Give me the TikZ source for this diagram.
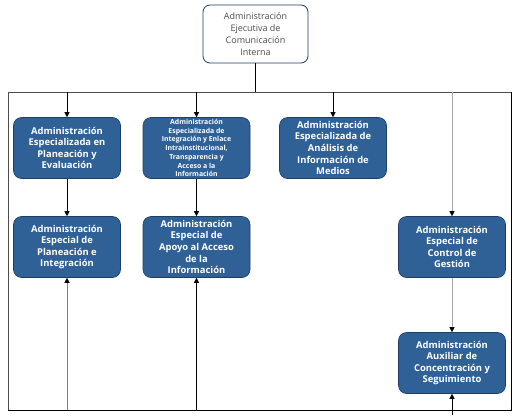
\documentclass[tikz,border=0pt]{standalone}
\usepackage{fontspec}
\setmainfont{Open Sans}
\usetikzlibrary{positioning, arrows.meta}
\definecolor{boxblue}{HTML}{2F6196}
\definecolor{boxedge}{HTML}{1E3D63}
\tikzset{
    head_box/.style={draw=boxedge, fill=white, rounded corners=7pt, line width=0.8pt, minimum width=105pt, minimum height=58pt, align=center, text=black!70, font=\fontsize{9}{12}\selectfont, inner sep=1pt},
    unit_box/.style={draw=boxedge, fill=boxblue, rounded corners=8pt, line width=0.6pt, minimum width=107pt, minimum height=61pt, align=center, text=white, font=\bfseries\fontsize{9.4}{11.6}\selectfont, inner sep=1pt},
    small_box/.style={unit_box, font=\bfseries\fontsize{6.9}{8.7}\selectfont},
    frame_line/.style={line width=0.8pt, black},
    main_arrow/.style={-{Triangle[width=5pt, length=5pt, color=black]}, line width=0.6pt, black},
    grey_arrow/.style={main_arrow, draw=black!35}
}
\begin{document}
\begin{tikzpicture}[x=1pt, y=-1pt]
    \useasboundingbox (0,0) rectangle (518,415);
    % head
    \node[head_box] (head) at (255.5,34) {Administración\\Ejecutiva de\\Comunicación\\Interna};
    % frame
    \coordinate (fl) at (8,92);
    \coordinate (fr) at (511,92);
    \coordinate (bl) at (8,410);
    \coordinate (br) at (511,410);
    \draw[frame_line, black!70] (bl) -- (fl) -- (fr);
    \draw[frame_line] (fr) -- (br) -- (bl);
    \coordinate (hj) at (head.south |- fl);
    \draw[frame_line] (head) -- (hj);
    % first row
    \node[unit_box] (ae1) at (67,148) {Administración\\Especializada en\\Planeación y\\Evaluación};
    \node[small_box] (ae2) at (196.5,148) {Administración\\Especializada de\\Integración y Enlace\\Intrainstitucional,\\Transparencia y\\Acceso a la\\Información};
    \node[unit_box] (ae3) at (333,148) {Administración\\Especializada de\\Análisis de\\Información de\\Medios};
    % second row
    \node[unit_box] (ae4) at (67,247) {Administración\\Especial de\\Planeación e\\Integración};
    \node[unit_box] (ae5) at (196.5,247) {Administración\\Especial de\\Apoyo al Acceso\\de la\\Información};
    \node[unit_box] (ae6) at (452,247) {Administración\\Especial de\\Control de\\Gestión};
    \node[unit_box] (ae7) at (452,363) {Administración\\Auxiliar de\\Concentración y\\Seguimiento};
    % arrows from the frame
    \foreach \n in {ae1, ae2, ae3, ae6} {
        \coordinate (t\n) at (\n.north |- fl);
        \coordinate (b\n) at (\n.south |- bl);
    }
    \foreach \n in {ae1, ae2, ae3}
        \draw[main_arrow] (t\n) -- (\n);
    \draw[grey_arrow] (tae6) -- (ae6);
    \draw[main_arrow] (ae1) -- (ae4);
    \draw[main_arrow] (ae2) -- (ae5);
    \draw[grey_arrow] (ae6) -- (ae7);
    \draw[grey_arrow, draw=black!50] (bae1) -- (ae4);
    \draw[main_arrow] (bae2) -- (ae5);
    \coordinate (end) at (ae7.south |- 0,415);
    \draw[main_arrow] (end) -- (ae7);
\end{tikzpicture}
\end{document}
